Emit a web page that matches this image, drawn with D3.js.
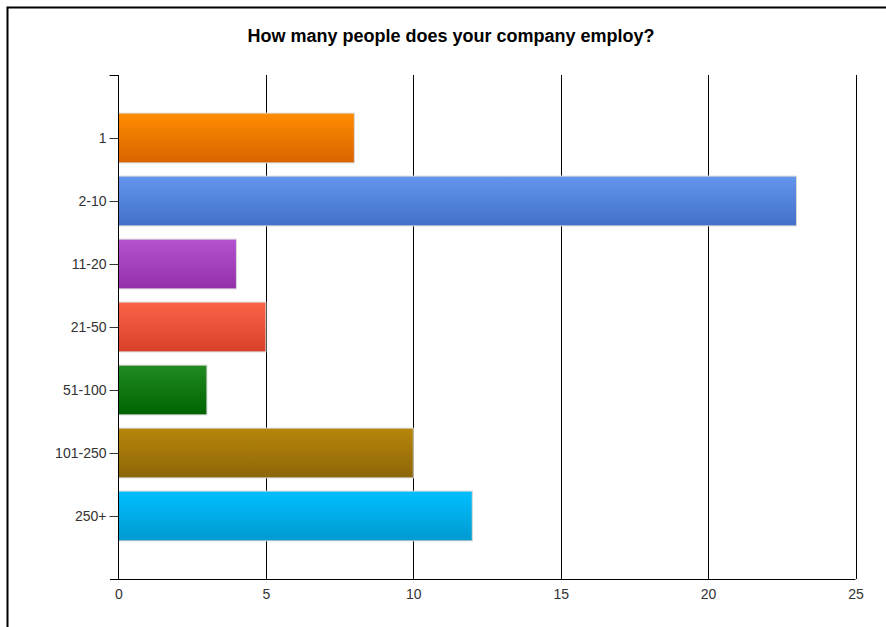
<!DOCTYPE html>
<html><head><meta charset="utf-8">
<script src="https://cdn.jsdelivr.net/npm/d3@7"></script>
<style>body{margin:0;background:#fff;}svg{display:block;font-family:"Liberation Sans",Arial,sans-serif;}</style>
</head><body>
<svg id="c" width="886" height="627"></svg>
<script>
const title = "How many people does your company employ?";
const categories = ["1","2-10","11-20","21-50","51-100","101-250","250+"];
const values = [8,23,4,5,3,10,12];
const xTicks = [0,5,10,15,20,25];
const colorsTop = ["#ff8c00","#6495ed","#b452d0","#fd6347","#228b22","#b8860b","#00bfff"];
const colorsBottom = ["#d96400","#4270c8","#9430aa","#d94028","#006400","#8b6508","#009ad0"];

const svg = d3.select("#c");
const pLeft = 118.5, pRight = 855.5, pTop = 75, pBottom = 579;

// frame
svg.append("path").attr("d","M7.5,640 L7.5,7.5 L900,7.5").attr("fill","none").attr("stroke","#000").attr("stroke-width",2);

svg.append("text").attr("x",451).attr("y",42).attr("text-anchor","middle")
  .attr("font-size","18px").attr("font-weight","bold").attr("fill","#000").text(title);

const x = d3.scaleLinear().domain([0,25]).range([pLeft,pRight]);
const y = d3.scalePoint().domain(categories).range([pTop,pBottom]).padding(1);
const barH = y.step()*0.79;

const defs = svg.append("defs");
categories.forEach((c,i)=>{
  const g = defs.append("linearGradient").attr("id","g"+i).attr("x1",0).attr("y1",0).attr("x2",0).attr("y2",1);
  g.append("stop").attr("offset","0%").attr("stop-color",colorsTop[i]);
  g.append("stop").attr("offset","100%").attr("stop-color",colorsBottom[i]);
});

// grid lines
svg.append("g").selectAll("line").data(xTicks.filter(t=>t>0)).join("line")
  .attr("x1",d=>Math.round(x(d))+0.5).attr("x2",d=>Math.round(x(d))+0.5)
  .attr("y1",pTop).attr("y2",pBottom).attr("stroke","#000").attr("stroke-width",1);

// bars
svg.append("g").selectAll("rect").data(values).join("rect")
  .attr("x",x(0)).attr("y",(d,i)=>y(categories[i])-barH/2)
  .attr("width",d=>x(d)-x(0)).attr("height",barH)
  .attr("fill",(d,i)=>"url(#g"+i+")")
  .attr("stroke","#d8d8d8").attr("stroke-width",1);

// x axis
const xa = svg.append("g").attr("transform",`translate(0,${pBottom})`)
  .call(d3.axisBottom(x).tickValues(xTicks).tickSize(0).tickPadding(10));
xa.select(".domain").remove();
xa.append("line").attr("x1",110).attr("x2",pRight).attr("y1",0.5).attr("y2",0.5).attr("stroke","#000");
xa.selectAll("text").attr("font-size","14px").attr("fill","#333").attr("font-family","Liberation Sans, Arial, sans-serif");

// y axis
const ya = svg.append("g").attr("transform",`translate(${pLeft},0)`)
  .call(d3.axisLeft(y).tickSize(9).tickPadding(3));
ya.select(".domain").remove();
ya.append("line").attr("x1",0).attr("x2",0).attr("y1",pTop).attr("y2",pBottom).attr("stroke","#000");
ya.append("line").attr("x1",-9).attr("x2",0).attr("y1",pTop+0.5).attr("y2",pTop+0.5).attr("stroke","#000");
ya.selectAll(".tick line").attr("stroke","#333");
ya.selectAll("text").attr("font-size","14px").attr("fill","#333").attr("font-family","Liberation Sans, Arial, sans-serif");
</script>
</body></html>
